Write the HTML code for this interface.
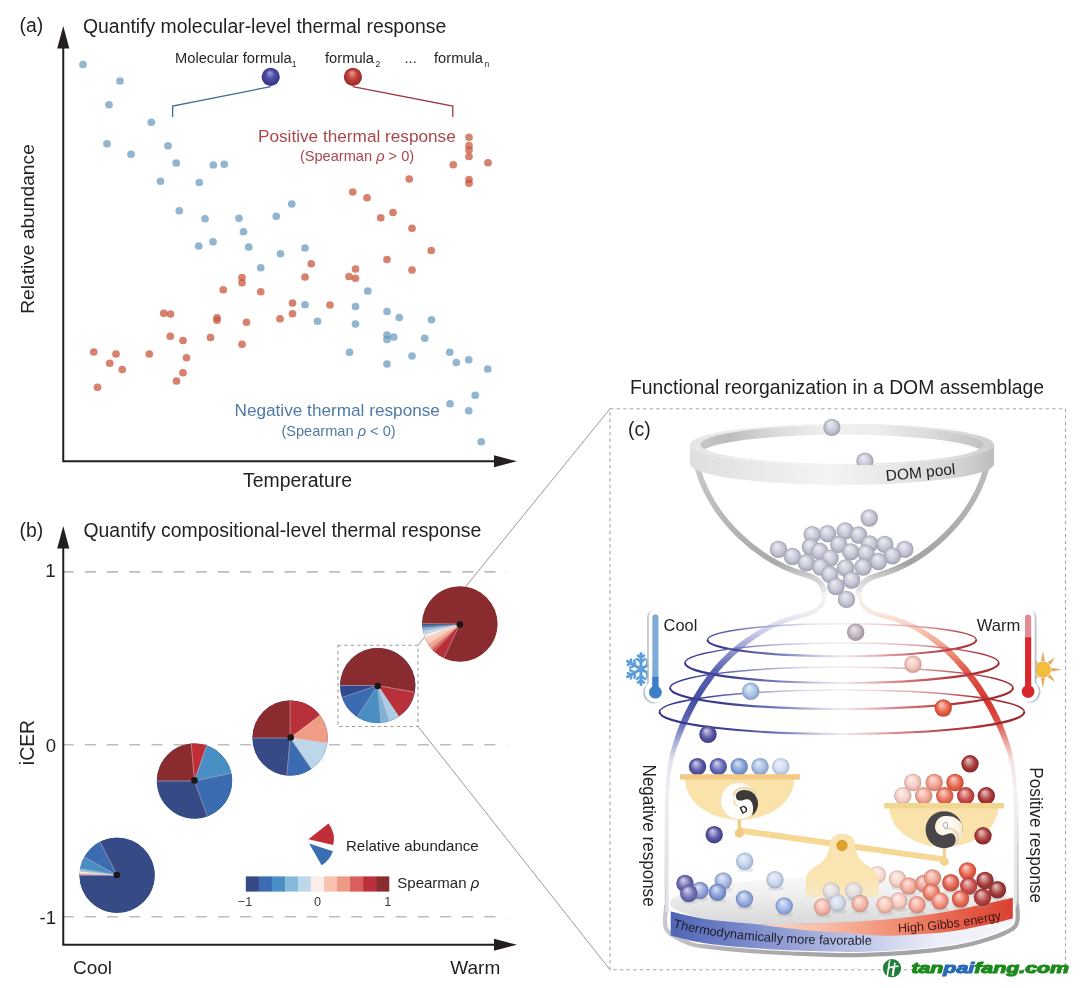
<!DOCTYPE html>
<html><head><meta charset="utf-8"><title>Figure</title>
<style>
html,body{margin:0;padding:0;background:#fff;}
body{width:1080px;height:988px;overflow:hidden;font-family:"Liberation Sans",sans-serif;}
svg{display:block;opacity:0.999;will-change:transform}
svg text{font-family:"Liberation Sans",sans-serif;}
</style></head><body>
<svg width="1080" height="988" viewBox="0 0 1080 988">
<defs>
<linearGradient id="ringBack" x1="0" x2="1" y1="0" y2="0"><stop offset="0" stop-color="#c6c6c6"/><stop offset="0.1" stop-color="#bcbcbc"/><stop offset="0.28" stop-color="#dcdcdc"/><stop offset="0.45" stop-color="#f1f1f1"/><stop offset="0.62" stop-color="#eeeeee"/><stop offset="0.82" stop-color="#dad8d9"/><stop offset="1" stop-color="#c2c0c1"/></linearGradient>
<linearGradient id="ringRim" x1="0" x2="1" y1="0" y2="0"><stop offset="0" stop-color="#e6e6e6"/><stop offset="0.4" stop-color="#f4f4f4"/><stop offset="0.8" stop-color="#e4e2e3"/><stop offset="1" stop-color="#cfcdce"/></linearGradient>
<linearGradient id="ringFront" x1="0" x2="1" y1="0" y2="0"><stop offset="0" stop-color="#dedede"/><stop offset="0.2" stop-color="#e8e8e8"/><stop offset="0.45" stop-color="#f4f4f4"/><stop offset="0.7" stop-color="#e6e4e5"/><stop offset="0.9" stop-color="#d2d0d1"/><stop offset="1" stop-color="#bdbbbc"/></linearGradient>
<linearGradient id="bowlL" gradientUnits="userSpaceOnUse" x1="0" y1="465" x2="0" y2="596"><stop offset="0" stop-color="#c9c9c9"/><stop offset="0.75" stop-color="#a9a9a9"/><stop offset="0.86" stop-color="#cfcfcf"/><stop offset="1" stop-color="#f0f0f0"/></linearGradient>
<linearGradient id="bowlR" gradientUnits="userSpaceOnUse" x1="0" y1="465" x2="0" y2="596"><stop offset="0" stop-color="#bdbdbd"/><stop offset="0.75" stop-color="#a3a3a3"/><stop offset="0.86" stop-color="#cfcfcf"/><stop offset="1" stop-color="#f0f0f0"/></linearGradient>
<linearGradient id="jarL" gradientUnits="userSpaceOnUse" x1="0" y1="592" x2="0" y2="912"><stop offset="0" stop-color="#f4f4f6"/><stop offset="0.07" stop-color="#ececf4"/><stop offset="0.12" stop-color="#cfd1ea"/><stop offset="0.18" stop-color="#959bd0"/><stop offset="0.245" stop-color="#5964b0"/><stop offset="0.34" stop-color="#4650a4"/><stop offset="0.40" stop-color="#5d67b2"/><stop offset="0.46" stop-color="#a0a6d3"/><stop offset="0.525" stop-color="#e2e3ef"/><stop offset="0.62" stop-color="#ededf2"/><stop offset="1" stop-color="#e0e0e7"/></linearGradient>
<linearGradient id="jarR" gradientUnits="userSpaceOnUse" x1="0" y1="592" x2="0" y2="912"><stop offset="0" stop-color="#f7f2f0"/><stop offset="0.07" stop-color="#fae6dc"/><stop offset="0.12" stop-color="#f6c6b2"/><stop offset="0.18" stop-color="#ee9580"/><stop offset="0.245" stop-color="#e05a48"/><stop offset="0.34" stop-color="#d6342e"/><stop offset="0.40" stop-color="#dc4c44"/><stop offset="0.46" stop-color="#eb9a94"/><stop offset="0.525" stop-color="#f5e4e2"/><stop offset="0.62" stop-color="#f1f1f1"/><stop offset="1" stop-color="#e2e2e4"/></linearGradient>
<linearGradient id="bandBlue" gradientUnits="userSpaceOnUse" x1="670" y1="0" x2="1013" y2="0"><stop offset="0" stop-color="#4f64b6"/><stop offset="0.2" stop-color="#7585c8"/><stop offset="0.45" stop-color="#a9b3de"/><stop offset="0.62" stop-color="#ccd2ee"/><stop offset="0.78" stop-color="#eceef8"/><stop offset="1" stop-color="#f6f6f8"/></linearGradient>
<linearGradient id="bandRed" gradientUnits="userSpaceOnUse" x1="752" y1="0" x2="1013" y2="0"><stop offset="0" stop-color="#f9dccf"/><stop offset="0.3" stop-color="#f7b9a2"/><stop offset="0.55" stop-color="#f08e74"/><stop offset="0.8" stop-color="#e55f48"/><stop offset="1" stop-color="#da4032"/></linearGradient>
<linearGradient id="rimG" gradientUnits="userSpaceOnUse" x1="666" y1="0" x2="1016" y2="0"><stop offset="0" stop-color="#c9c9cd"/><stop offset="0.12" stop-color="#b4b4b8"/><stop offset="0.5" stop-color="#a2a2a4"/><stop offset="1" stop-color="#a6a6a8"/></linearGradient>
<linearGradient id="wallG" gradientUnits="userSpaceOnUse" x1="0" y1="790" x2="0" y2="908"><stop offset="0" stop-color="#c8c8cc" stop-opacity="0"/><stop offset="0.5" stop-color="#c0c0c4" stop-opacity="0.8"/><stop offset="1" stop-color="#b0b0b4"/></linearGradient>
<linearGradient id="floorG" x1="0" y1="0" x2="0" y2="1"><stop offset="0" stop-color="#f8f8f8"/><stop offset="0.35" stop-color="#efefef"/><stop offset="0.75" stop-color="#dedede"/><stop offset="1" stop-color="#d6d6d6"/></linearGradient>
<radialGradient id="sp_fblue" cx="0.5" cy="0.5" r="0.5" fx="0.45" fy="0.25"><stop offset="0" stop-color="#a09ed8"/><stop offset="0.5" stop-color="#504ea3"/><stop offset="1" stop-color="#343289"/></radialGradient>
<radialGradient id="sp_fred" cx="0.5" cy="0.5" r="0.5" fx="0.45" fy="0.25"><stop offset="0" stop-color="#eba294"/><stop offset="0.5" stop-color="#c5433d"/><stop offset="1" stop-color="#962725"/></radialGradient>

<radialGradient id="yyW" cx="0.4" cy="0.55" r="0.6"><stop offset="0" stop-color="#ffffff"/><stop offset="0.8" stop-color="#fffdf8"/><stop offset="1" stop-color="#f6ead0"/></radialGradient>
<radialGradient id="yyC" cx="0.45" cy="0.3" r="0.75"><stop offset="0" stop-color="#ffffff"/><stop offset="0.5" stop-color="#fbf3e4"/><stop offset="1" stop-color="#efdcb8"/></radialGradient>
<linearGradient id="coilB" gradientUnits="userSpaceOnUse" x1="659" y1="0" x2="1025" y2="0"><stop offset="0" stop-color="#33338a"/><stop offset="0.14" stop-color="#45479a"/><stop offset="0.3" stop-color="#a9abd2"/><stop offset="0.42" stop-color="#e4e4f0"/><stop offset="0.5" stop-color="#f4eff2"/><stop offset="0.6" stop-color="#f0d4d6"/><stop offset="0.72" stop-color="#dc9a9c"/><stop offset="0.86" stop-color="#b03a3e"/><stop offset="1" stop-color="#97262b"/></linearGradient>
<linearGradient id="coilG" gradientUnits="userSpaceOnUse" x1="659" y1="0" x2="1025" y2="0"><stop offset="0" stop-color="#33338a"/><stop offset="0.2" stop-color="#3d3f92"/><stop offset="0.34" stop-color="#7f83bb"/><stop offset="0.44" stop-color="#cfd0e4"/><stop offset="0.5" stop-color="#efeaee"/><stop offset="0.56" stop-color="#ecc9cb"/><stop offset="0.66" stop-color="#d67e82"/><stop offset="0.8" stop-color="#b5363b"/><stop offset="1" stop-color="#97262b"/></linearGradient>
<linearGradient id="pedG" gradientUnits="userSpaceOnUse" x1="0" y1="834" x2="0" y2="897"><stop offset="0" stop-color="#fae5b2"/><stop offset="0.75" stop-color="#fae5b2"/><stop offset="1" stop-color="#fae5b2" stop-opacity="0.7"/></linearGradient>
<radialGradient id="sbfc1d1" cx="0.5" cy="0.5" r="0.5" fx="0.38" fy="0.27"><stop offset="0" stop-color="#eeeff3"/><stop offset="0.3" stop-color="#dcdde6"/><stop offset="0.68" stop-color="#c3c5d4"/><stop offset="1" stop-color="#9fa0ad"/></radialGradient>
<radialGradient id="sbcaeb8" cx="0.5" cy="0.5" r="0.5" fx="0.38" fy="0.27"><stop offset="0" stop-color="#eeeaed"/><stop offset="0.3" stop-color="#dad2d8"/><stop offset="0.68" stop-color="#c0b3bc"/><stop offset="1" stop-color="#9c9099"/></radialGradient>
<radialGradient id="sa3bde6" cx="0.5" cy="0.5" r="0.5" fx="0.38" fy="0.27"><stop offset="0" stop-color="#e7eef8"/><stop offset="0.3" stop-color="#ccdbf1"/><stop offset="0.68" stop-color="#a9c1e8"/><stop offset="1" stop-color="#879dbf"/></radialGradient>
<radialGradient id="sf2c0b6" cx="0.5" cy="0.5" r="0.5" fx="0.38" fy="0.27"><stop offset="0" stop-color="#fcefec"/><stop offset="0.3" stop-color="#f8dcd7"/><stop offset="0.68" stop-color="#f3c4ba"/><stop offset="1" stop-color="#c99f97"/></radialGradient>
<radialGradient id="se8553a" cx="0.5" cy="0.5" r="0.5" fx="0.38" fy="0.27"><stop offset="0" stop-color="#f9d3cc"/><stop offset="0.3" stop-color="#f2a293"/><stop offset="0.68" stop-color="#e95f46"/><stop offset="1" stop-color="#c14730"/></radialGradient>
<radialGradient id="s4c499d" cx="0.5" cy="0.5" r="0.5" fx="0.38" fy="0.27"><stop offset="0" stop-color="#d0d0e6"/><stop offset="0.3" stop-color="#9d9bc9"/><stop offset="0.68" stop-color="#5754a3"/><stop offset="1" stop-color="#3f3d82"/></radialGradient>
<radialGradient id="sa02c2c" cx="0.5" cy="0.5" r="0.5" fx="0.38" fy="0.27"><stop offset="0" stop-color="#e6c8c8"/><stop offset="0.3" stop-color="#cb8b8b"/><stop offset="0.68" stop-color="#a63939"/><stop offset="1" stop-color="#852525"/></radialGradient>
<radialGradient id="sf6d2c8" cx="0.5" cy="0.5" r="0.5" fx="0.38" fy="0.27"><stop offset="0" stop-color="#fdf3f1"/><stop offset="0.3" stop-color="#fae6e1"/><stop offset="0.68" stop-color="#f7d5cb"/><stop offset="1" stop-color="#ccaea6"/></radialGradient>
<radialGradient id="s4f4da0" cx="0.5" cy="0.5" r="0.5" fx="0.38" fy="0.27"><stop offset="0" stop-color="#d1d1e6"/><stop offset="0.3" stop-color="#9e9dcb"/><stop offset="0.68" stop-color="#5a58a6"/><stop offset="1" stop-color="#424085"/></radialGradient>
<radialGradient id="s5861b3" cx="0.5" cy="0.5" r="0.5" fx="0.38" fy="0.27"><stop offset="0" stop-color="#d4d6eb"/><stop offset="0.3" stop-color="#a3a8d5"/><stop offset="0.68" stop-color="#626ab8"/><stop offset="1" stop-color="#495195"/></radialGradient>
<radialGradient id="s7a9ad6" cx="0.5" cy="0.5" r="0.5" fx="0.38" fy="0.27"><stop offset="0" stop-color="#dce5f4"/><stop offset="0.3" stop-color="#b6c7e8"/><stop offset="0.68" stop-color="#82a0d8"/><stop offset="1" stop-color="#6580b2"/></radialGradient>
<radialGradient id="sa0b9e3" cx="0.5" cy="0.5" r="0.5" fx="0.38" fy="0.27"><stop offset="0" stop-color="#e6edf8"/><stop offset="0.3" stop-color="#cbd8f0"/><stop offset="0.68" stop-color="#a6bde5"/><stop offset="1" stop-color="#859abc"/></radialGradient>
<radialGradient id="sccd9f0" cx="0.5" cy="0.5" r="0.5" fx="0.38" fy="0.27"><stop offset="0" stop-color="#f2f5fb"/><stop offset="0.3" stop-color="#e3eaf7"/><stop offset="0.68" stop-color="#cfdbf1"/><stop offset="1" stop-color="#a9b4c7"/></radialGradient>
<radialGradient id="sf6cdc6" cx="0.5" cy="0.5" r="0.5" fx="0.38" fy="0.27"><stop offset="0" stop-color="#fdf2f0"/><stop offset="0.3" stop-color="#fae4e0"/><stop offset="0.68" stop-color="#f7d0c9"/><stop offset="1" stop-color="#ccaaa4"/></radialGradient>
<radialGradient id="sf2a492" cx="0.5" cy="0.5" r="0.5" fx="0.38" fy="0.27"><stop offset="0" stop-color="#fce7e3"/><stop offset="0.3" stop-color="#f8cdc3"/><stop offset="0.68" stop-color="#f3a999"/><stop offset="1" stop-color="#c98879"/></radialGradient>
<radialGradient id="se96a50" cx="0.5" cy="0.5" r="0.5" fx="0.38" fy="0.27"><stop offset="0" stop-color="#f9d8d2"/><stop offset="0.3" stop-color="#f3ad9f"/><stop offset="0.68" stop-color="#ea735a"/><stop offset="1" stop-color="#c15842"/></radialGradient>
<radialGradient id="sc84040" cx="0.5" cy="0.5" r="0.5" fx="0.38" fy="0.27"><stop offset="0" stop-color="#f1cdcd"/><stop offset="0.3" stop-color="#e19696"/><stop offset="0.68" stop-color="#cb4b4b"/><stop offset="1" stop-color="#a63535"/></radialGradient>
<radialGradient id="sa52e2e" cx="0.5" cy="0.5" r="0.5" fx="0.38" fy="0.27"><stop offset="0" stop-color="#e8c9c9"/><stop offset="0.3" stop-color="#ce8c8c"/><stop offset="0.68" stop-color="#aa3b3b"/><stop offset="1" stop-color="#892626"/></radialGradient>
<radialGradient id="sf5c4bc" cx="0.5" cy="0.5" r="0.5" fx="0.38" fy="0.27"><stop offset="0" stop-color="#fcf0ee"/><stop offset="0.3" stop-color="#fadfda"/><stop offset="0.68" stop-color="#f6c8c0"/><stop offset="1" stop-color="#cba39c"/></radialGradient>
<radialGradient id="sf09886" cx="0.5" cy="0.5" r="0.5" fx="0.38" fy="0.27"><stop offset="0" stop-color="#fbe4e0"/><stop offset="0.3" stop-color="#f7c6bc"/><stop offset="0.68" stop-color="#f19e8d"/><stop offset="1" stop-color="#c77e6f"/></radialGradient>
<radialGradient id="se95c42" cx="0.5" cy="0.5" r="0.5" fx="0.38" fy="0.27"><stop offset="0" stop-color="#f9d5ce"/><stop offset="0.3" stop-color="#f3a597"/><stop offset="0.68" stop-color="#ea664d"/><stop offset="1" stop-color="#c14c37"/></radialGradient>
<radialGradient id="sbdd0ee" cx="0.5" cy="0.5" r="0.5" fx="0.38" fy="0.27"><stop offset="0" stop-color="#eef3fb"/><stop offset="0.3" stop-color="#dbe5f6"/><stop offset="0.68" stop-color="#c1d3ef"/><stop offset="1" stop-color="#9dadc6"/></radialGradient>
<radialGradient id="s6361ac" cx="0.5" cy="0.5" r="0.5" fx="0.38" fy="0.27"><stop offset="0" stop-color="#d6d6e9"/><stop offset="0.3" stop-color="#a9a8d1"/><stop offset="0.68" stop-color="#6c6ab1"/><stop offset="1" stop-color="#52518f"/></radialGradient>
<radialGradient id="s8a9ad5" cx="0.5" cy="0.5" r="0.5" fx="0.38" fy="0.27"><stop offset="0" stop-color="#e1e5f4"/><stop offset="0.3" stop-color="#bfc7e8"/><stop offset="0.68" stop-color="#91a0d8"/><stop offset="1" stop-color="#7380b1"/></radialGradient>
<radialGradient id="s6867b4" cx="0.5" cy="0.5" r="0.5" fx="0.38" fy="0.27"><stop offset="0" stop-color="#d8d7ec"/><stop offset="0.3" stop-color="#acabd6"/><stop offset="0.68" stop-color="#7170b8"/><stop offset="1" stop-color="#565595"/></radialGradient>
<radialGradient id="sa1b2df" cx="0.5" cy="0.5" r="0.5" fx="0.38" fy="0.27"><stop offset="0" stop-color="#e7ebf7"/><stop offset="0.3" stop-color="#cbd5ed"/><stop offset="0.68" stop-color="#a7b7e1"/><stop offset="1" stop-color="#8694b9"/></radialGradient>
<radialGradient id="s7d94d5" cx="0.5" cy="0.5" r="0.5" fx="0.38" fy="0.27"><stop offset="0" stop-color="#dde3f4"/><stop offset="0.3" stop-color="#b8c4e8"/><stop offset="0.68" stop-color="#859ad8"/><stop offset="1" stop-color="#687bb1"/></radialGradient>
<radialGradient id="s8ea6dd" cx="0.5" cy="0.5" r="0.5" fx="0.38" fy="0.27"><stop offset="0" stop-color="#e2e8f6"/><stop offset="0.3" stop-color="#c1ceec"/><stop offset="0.68" stop-color="#95abdf"/><stop offset="1" stop-color="#768ab7"/></radialGradient>
<radialGradient id="sc8d4ee" cx="0.5" cy="0.5" r="0.5" fx="0.38" fy="0.27"><stop offset="0" stop-color="#f1f4fb"/><stop offset="0.3" stop-color="#e1e7f6"/><stop offset="0.68" stop-color="#cbd7ef"/><stop offset="1" stop-color="#a6b0c6"/></radialGradient>
<radialGradient id="s96aee3" cx="0.5" cy="0.5" r="0.5" fx="0.38" fy="0.27"><stop offset="0" stop-color="#e4eaf8"/><stop offset="0.3" stop-color="#c5d2f0"/><stop offset="0.68" stop-color="#9cb3e5"/><stop offset="1" stop-color="#7c90bc"/></radialGradient>
<radialGradient id="sd9d9e9" cx="0.5" cy="0.5" r="0.5" fx="0.38" fy="0.27"><stop offset="0" stop-color="#f5f5f9"/><stop offset="0.3" stop-color="#eaeaf3"/><stop offset="0.68" stop-color="#dbdbea"/><stop offset="1" stop-color="#b4b4c1"/></radialGradient>
<radialGradient id="sf5ab9b" cx="0.5" cy="0.5" r="0.5" fx="0.38" fy="0.27"><stop offset="0" stop-color="#fce9e5"/><stop offset="0.3" stop-color="#fad1c8"/><stop offset="0.68" stop-color="#f6b0a1"/><stop offset="1" stop-color="#cb8e81"/></radialGradient>
<radialGradient id="scdd5ec" cx="0.5" cy="0.5" r="0.5" fx="0.38" fy="0.27"><stop offset="0" stop-color="#f2f4fa"/><stop offset="0.3" stop-color="#e4e8f5"/><stop offset="0.68" stop-color="#d0d8ed"/><stop offset="1" stop-color="#aab1c4"/></radialGradient>
<radialGradient id="sf4ab9b" cx="0.5" cy="0.5" r="0.5" fx="0.38" fy="0.27"><stop offset="0" stop-color="#fce9e5"/><stop offset="0.3" stop-color="#f9d1c8"/><stop offset="0.68" stop-color="#f5b0a1"/><stop offset="1" stop-color="#cb8e81"/></radialGradient>
<radialGradient id="sf8cfc4" cx="0.5" cy="0.5" r="0.5" fx="0.38" fy="0.27"><stop offset="0" stop-color="#fdf3f0"/><stop offset="0.3" stop-color="#fbe5df"/><stop offset="0.68" stop-color="#f8d2c8"/><stop offset="1" stop-color="#ceaca3"/></radialGradient>
<radialGradient id="sf3a898" cx="0.5" cy="0.5" r="0.5" fx="0.38" fy="0.27"><stop offset="0" stop-color="#fce8e4"/><stop offset="0.3" stop-color="#f8cfc6"/><stop offset="0.68" stop-color="#f4ad9e"/><stop offset="1" stop-color="#ca8b7e"/></radialGradient>
<radialGradient id="sf0988a" cx="0.5" cy="0.5" r="0.5" fx="0.38" fy="0.27"><stop offset="0" stop-color="#fbe4e1"/><stop offset="0.3" stop-color="#f7c6bf"/><stop offset="0.68" stop-color="#f19e91"/><stop offset="1" stop-color="#c77e73"/></radialGradient>
<radialGradient id="sf09a88" cx="0.5" cy="0.5" r="0.5" fx="0.38" fy="0.27"><stop offset="0" stop-color="#fbe5e0"/><stop offset="0.3" stop-color="#f7c7be"/><stop offset="0.68" stop-color="#f1a08f"/><stop offset="1" stop-color="#c78071"/></radialGradient>
<radialGradient id="se05a48" cx="0.5" cy="0.5" r="0.5" fx="0.38" fy="0.27"><stop offset="0" stop-color="#f7d4cf"/><stop offset="0.3" stop-color="#eea49a"/><stop offset="0.68" stop-color="#e26453"/><stop offset="1" stop-color="#ba4b3c"/></radialGradient>
<radialGradient id="se85840" cx="0.5" cy="0.5" r="0.5" fx="0.38" fy="0.27"><stop offset="0" stop-color="#f9d4cd"/><stop offset="0.3" stop-color="#f2a396"/><stop offset="0.68" stop-color="#e9624b"/><stop offset="1" stop-color="#c14935"/></radialGradient>
<radialGradient id="sa03232" cx="0.5" cy="0.5" r="0.5" fx="0.38" fy="0.27"><stop offset="0" stop-color="#e6caca"/><stop offset="0.3" stop-color="#cb8e8e"/><stop offset="0.68" stop-color="#a63e3e"/><stop offset="1" stop-color="#852a2a"/></radialGradient>
<radialGradient id="s9c3030" cx="0.5" cy="0.5" r="0.5" fx="0.38" fy="0.27"><stop offset="0" stop-color="#e5c9c9"/><stop offset="0.3" stop-color="#c98d8d"/><stop offset="0.68" stop-color="#a23c3c"/><stop offset="1" stop-color="#812828"/></radialGradient>
<radialGradient id="sc84444" cx="0.5" cy="0.5" r="0.5" fx="0.38" fy="0.27"><stop offset="0" stop-color="#f1cece"/><stop offset="0.3" stop-color="#e19898"/><stop offset="0.68" stop-color="#cb4f4f"/><stop offset="1" stop-color="#a63838"/></radialGradient>
<radialGradient id="see7a60" cx="0.5" cy="0.5" r="0.5" fx="0.38" fy="0.27"><stop offset="0" stop-color="#fbdcd6"/><stop offset="0.3" stop-color="#f6b6a8"/><stop offset="0.68" stop-color="#ef826a"/><stop offset="1" stop-color="#c66550"/></radialGradient>
<radialGradient id="sb03838" cx="0.5" cy="0.5" r="0.5" fx="0.38" fy="0.27"><stop offset="0" stop-color="#eacbcb"/><stop offset="0.3" stop-color="#d49292"/><stop offset="0.68" stop-color="#b54444"/><stop offset="1" stop-color="#922e2e"/></radialGradient>
<radialGradient id="se8604a" cx="0.5" cy="0.5" r="0.5" fx="0.38" fy="0.27"><stop offset="0" stop-color="#f9d6d0"/><stop offset="0.3" stop-color="#f2a89b"/><stop offset="0.68" stop-color="#e96a55"/><stop offset="1" stop-color="#c1503d"/></radialGradient>
<radialGradient id="sf08a78" cx="0.5" cy="0.5" r="0.5" fx="0.38" fy="0.27"><stop offset="0" stop-color="#fbe1dc"/><stop offset="0.3" stop-color="#f7bfb5"/><stop offset="0.68" stop-color="#f19180"/><stop offset="1" stop-color="#c77364"/></radialGradient>
<radialGradient id="sf4a090" cx="0.5" cy="0.5" r="0.5" fx="0.38" fy="0.27"><stop offset="0" stop-color="#fce6e2"/><stop offset="0.3" stop-color="#f9cbc2"/><stop offset="0.68" stop-color="#f5a697"/><stop offset="1" stop-color="#cb8578"/></radialGradient>
<radialGradient id="sf8c8bc" cx="0.5" cy="0.5" r="0.5" fx="0.38" fy="0.27"><stop offset="0" stop-color="#fdf1ee"/><stop offset="0.3" stop-color="#fbe1da"/><stop offset="0.68" stop-color="#f8cbc0"/><stop offset="1" stop-color="#cea69c"/></radialGradient>
<radialGradient id="sf8c0b0" cx="0.5" cy="0.5" r="0.5" fx="0.38" fy="0.27"><stop offset="0" stop-color="#fdefea"/><stop offset="0.3" stop-color="#fbdcd4"/><stop offset="0.68" stop-color="#f8c4b5"/><stop offset="1" stop-color="#ce9f92"/></radialGradient></defs>
<rect width="1080" height="988" fill="#ffffff"/>
<g id="pa">
<path d="M63.25 47 V461.25 H495" fill="none" stroke="#231f20" stroke-width="2"/>
<path d="M63.25 26 L69.3 48.5 L57.2 48.5 Z" fill="#231f20"/>
<path d="M517 461.25 L494 467.3 L494 455.2 Z" fill="#231f20"/>
<circle cx="83" cy="64.5" r="3.85" fill="#6a9abe" fill-opacity="0.73"/>
<circle cx="120" cy="81" r="3.85" fill="#6a9abe" fill-opacity="0.73"/>
<circle cx="109" cy="104.75" r="3.85" fill="#6a9abe" fill-opacity="0.73"/>
<circle cx="151.25" cy="122.25" r="3.85" fill="#6a9abe" fill-opacity="0.73"/>
<circle cx="107" cy="143.75" r="3.85" fill="#6a9abe" fill-opacity="0.73"/>
<circle cx="131" cy="154.25" r="3.85" fill="#6a9abe" fill-opacity="0.73"/>
<circle cx="168" cy="145.75" r="3.85" fill="#6a9abe" fill-opacity="0.73"/>
<circle cx="176.25" cy="163" r="3.85" fill="#6a9abe" fill-opacity="0.73"/>
<circle cx="213.25" cy="165" r="3.85" fill="#6a9abe" fill-opacity="0.73"/>
<circle cx="224.25" cy="164.25" r="3.85" fill="#6a9abe" fill-opacity="0.73"/>
<circle cx="160.5" cy="181.25" r="3.85" fill="#6a9abe" fill-opacity="0.73"/>
<circle cx="199.25" cy="182.5" r="3.85" fill="#6a9abe" fill-opacity="0.73"/>
<circle cx="179.25" cy="210.75" r="3.85" fill="#6a9abe" fill-opacity="0.73"/>
<circle cx="205" cy="218.75" r="3.85" fill="#6a9abe" fill-opacity="0.73"/>
<circle cx="239" cy="218.25" r="3.85" fill="#6a9abe" fill-opacity="0.73"/>
<circle cx="243.5" cy="231.75" r="3.85" fill="#6a9abe" fill-opacity="0.73"/>
<circle cx="213" cy="241.75" r="3.85" fill="#6a9abe" fill-opacity="0.73"/>
<circle cx="198.75" cy="246" r="3.85" fill="#6a9abe" fill-opacity="0.73"/>
<circle cx="248.75" cy="247" r="3.85" fill="#6a9abe" fill-opacity="0.73"/>
<circle cx="291.75" cy="204" r="3.85" fill="#6a9abe" fill-opacity="0.73"/>
<circle cx="276.25" cy="216.25" r="3.85" fill="#6a9abe" fill-opacity="0.73"/>
<circle cx="305" cy="248" r="3.85" fill="#6a9abe" fill-opacity="0.73"/>
<circle cx="260.75" cy="267.75" r="3.85" fill="#6a9abe" fill-opacity="0.73"/>
<circle cx="280.5" cy="253.75" r="3.85" fill="#6a9abe" fill-opacity="0.73"/>
<circle cx="367.75" cy="291" r="3.85" fill="#6a9abe" fill-opacity="0.73"/>
<circle cx="305" cy="304.75" r="3.85" fill="#6a9abe" fill-opacity="0.73"/>
<circle cx="355.5" cy="306.5" r="3.85" fill="#6a9abe" fill-opacity="0.73"/>
<circle cx="387" cy="311.5" r="3.85" fill="#6a9abe" fill-opacity="0.73"/>
<circle cx="399.25" cy="317.5" r="3.85" fill="#6a9abe" fill-opacity="0.73"/>
<circle cx="431.5" cy="319.75" r="3.85" fill="#6a9abe" fill-opacity="0.73"/>
<circle cx="317.5" cy="321.25" r="3.85" fill="#6a9abe" fill-opacity="0.73"/>
<circle cx="355.5" cy="324" r="3.85" fill="#6a9abe" fill-opacity="0.73"/>
<circle cx="387" cy="335" r="3.85" fill="#6a9abe" fill-opacity="0.73"/>
<circle cx="393.75" cy="337" r="3.85" fill="#6a9abe" fill-opacity="0.73"/>
<circle cx="387" cy="339.5" r="3.85" fill="#6a9abe" fill-opacity="0.73"/>
<circle cx="424.75" cy="338.25" r="3.85" fill="#6a9abe" fill-opacity="0.73"/>
<circle cx="349.5" cy="352.25" r="3.85" fill="#6a9abe" fill-opacity="0.73"/>
<circle cx="412" cy="356" r="3.85" fill="#6a9abe" fill-opacity="0.73"/>
<circle cx="387" cy="364" r="3.85" fill="#6a9abe" fill-opacity="0.73"/>
<circle cx="449.75" cy="352.25" r="3.85" fill="#6a9abe" fill-opacity="0.73"/>
<circle cx="456.25" cy="362.5" r="3.85" fill="#6a9abe" fill-opacity="0.73"/>
<circle cx="468.75" cy="359.75" r="3.85" fill="#6a9abe" fill-opacity="0.73"/>
<circle cx="487.75" cy="369" r="3.85" fill="#6a9abe" fill-opacity="0.73"/>
<circle cx="475.25" cy="395.25" r="3.85" fill="#6a9abe" fill-opacity="0.73"/>
<circle cx="450" cy="403.75" r="3.85" fill="#6a9abe" fill-opacity="0.73"/>
<circle cx="468.75" cy="410.75" r="3.85" fill="#6a9abe" fill-opacity="0.73"/>
<circle cx="481.25" cy="441.75" r="3.85" fill="#6a9abe" fill-opacity="0.73"/>
<circle cx="469" cy="137.25" r="3.85" fill="#c8533a" fill-opacity="0.73"/>
<circle cx="469" cy="145.5" r="3.85" fill="#c8533a" fill-opacity="0.73"/>
<circle cx="469" cy="150" r="3.85" fill="#c8533a" fill-opacity="0.73"/>
<circle cx="469" cy="156.5" r="3.85" fill="#c8533a" fill-opacity="0.73"/>
<circle cx="453.25" cy="164.75" r="3.85" fill="#c8533a" fill-opacity="0.73"/>
<circle cx="488" cy="162.75" r="3.85" fill="#c8533a" fill-opacity="0.73"/>
<circle cx="409.25" cy="179" r="3.85" fill="#c8533a" fill-opacity="0.73"/>
<circle cx="469" cy="179.5" r="3.85" fill="#c8533a" fill-opacity="0.73"/>
<circle cx="469" cy="183.25" r="3.85" fill="#c8533a" fill-opacity="0.73"/>
<circle cx="352.75" cy="192" r="3.85" fill="#c8533a" fill-opacity="0.73"/>
<circle cx="367" cy="197.75" r="3.85" fill="#c8533a" fill-opacity="0.73"/>
<circle cx="393" cy="212.5" r="3.85" fill="#c8533a" fill-opacity="0.73"/>
<circle cx="380.75" cy="217.75" r="3.85" fill="#c8533a" fill-opacity="0.73"/>
<circle cx="412" cy="228.25" r="3.85" fill="#c8533a" fill-opacity="0.73"/>
<circle cx="242" cy="277.5" r="3.85" fill="#c8533a" fill-opacity="0.73"/>
<circle cx="242" cy="282.75" r="3.85" fill="#c8533a" fill-opacity="0.73"/>
<circle cx="223.25" cy="289.75" r="3.85" fill="#c8533a" fill-opacity="0.73"/>
<circle cx="260.75" cy="291.75" r="3.85" fill="#c8533a" fill-opacity="0.73"/>
<circle cx="163.75" cy="313.25" r="3.85" fill="#c8533a" fill-opacity="0.73"/>
<circle cx="170.5" cy="314" r="3.85" fill="#c8533a" fill-opacity="0.73"/>
<circle cx="217" cy="317.75" r="3.85" fill="#c8533a" fill-opacity="0.73"/>
<circle cx="217" cy="320.25" r="3.85" fill="#c8533a" fill-opacity="0.73"/>
<circle cx="246.5" cy="322.25" r="3.85" fill="#c8533a" fill-opacity="0.73"/>
<circle cx="170.25" cy="336.25" r="3.85" fill="#c8533a" fill-opacity="0.73"/>
<circle cx="183" cy="340.5" r="3.85" fill="#c8533a" fill-opacity="0.73"/>
<circle cx="210.5" cy="337.5" r="3.85" fill="#c8533a" fill-opacity="0.73"/>
<circle cx="242" cy="344.25" r="3.85" fill="#c8533a" fill-opacity="0.73"/>
<circle cx="93.75" cy="352" r="3.85" fill="#c8533a" fill-opacity="0.73"/>
<circle cx="116" cy="354" r="3.85" fill="#c8533a" fill-opacity="0.73"/>
<circle cx="149.25" cy="354" r="3.85" fill="#c8533a" fill-opacity="0.73"/>
<circle cx="109.75" cy="363.25" r="3.85" fill="#c8533a" fill-opacity="0.73"/>
<circle cx="122.25" cy="369.5" r="3.85" fill="#c8533a" fill-opacity="0.73"/>
<circle cx="186.5" cy="357.75" r="3.85" fill="#c8533a" fill-opacity="0.73"/>
<circle cx="183" cy="372.75" r="3.85" fill="#c8533a" fill-opacity="0.73"/>
<circle cx="176.5" cy="381" r="3.85" fill="#c8533a" fill-opacity="0.73"/>
<circle cx="97.5" cy="387.25" r="3.85" fill="#c8533a" fill-opacity="0.73"/>
<circle cx="431.25" cy="250.5" r="3.85" fill="#c8533a" fill-opacity="0.73"/>
<circle cx="387" cy="259.5" r="3.85" fill="#c8533a" fill-opacity="0.73"/>
<circle cx="311.25" cy="263.75" r="3.85" fill="#c8533a" fill-opacity="0.73"/>
<circle cx="355.5" cy="269" r="3.85" fill="#c8533a" fill-opacity="0.73"/>
<circle cx="412" cy="270" r="3.85" fill="#c8533a" fill-opacity="0.73"/>
<circle cx="305" cy="277" r="3.85" fill="#c8533a" fill-opacity="0.73"/>
<circle cx="349" cy="276.5" r="3.85" fill="#c8533a" fill-opacity="0.73"/>
<circle cx="355.5" cy="278.25" r="3.85" fill="#c8533a" fill-opacity="0.73"/>
<circle cx="292.5" cy="303" r="3.85" fill="#c8533a" fill-opacity="0.73"/>
<circle cx="330" cy="305" r="3.85" fill="#c8533a" fill-opacity="0.73"/>
<circle cx="292.5" cy="313.75" r="3.85" fill="#c8533a" fill-opacity="0.73"/>
<circle cx="280" cy="318.75" r="3.85" fill="#c8533a" fill-opacity="0.73"/>
<path d="M172.6 117.1 V106.1 L270.8 86.6" fill="none" stroke="#3d6c95" stroke-width="1.3"/>
<path d="M452.8 117.1 V106.1 L352.7 86.6" fill="none" stroke="#9c3a40" stroke-width="1.3"/>
<circle cx="270.7" cy="76.9" r="9.1" fill="url(#sp_fblue)"/>
<circle cx="352.9" cy="76.9" r="9.1" fill="url(#sp_fred)"/>
<text x="19.5" y="32" font-size="19.4" fill="#231f20">(a)</text>
<text x="83" y="32.5" font-size="19.4" fill="#231f20">Quantify molecular-level thermal response</text>
<text x="175" y="62.7" font-size="14.7" fill="#231f20">Molecular formula<tspan font-size="8.5" dy="4">1</tspan></text>
<text x="325" y="62.7" font-size="14.7" fill="#231f20">formula<tspan font-size="8.5" dy="4" dx="1.5">2</tspan></text>
<text x="404.5" y="62.7" font-size="14.7" fill="#231f20">...</text>
<text x="434" y="62.7" font-size="14.7" fill="#231f20">formula<tspan font-size="8.5" dy="4" dx="1.5">n</tspan></text>
<text x="258" y="142" font-size="17.2" fill="#a8484d">Positive thermal response</text>
<text x="357" y="160.5" font-size="14.6" fill="#a8484d" text-anchor="middle">(Spearman <tspan font-style="italic">ρ</tspan> &gt; 0)</text>
<text x="234.5" y="416" font-size="17.2" fill="#4f7aa3">Negative thermal response</text>
<text x="338.5" y="435.5" font-size="14.6" fill="#4f7aa3" text-anchor="middle">(Spearman <tspan font-style="italic">ρ</tspan> &lt; 0)</text>
<text x="297.5" y="487" font-size="19.4" fill="#231f20" text-anchor="middle">Temperature</text>
<text transform="translate(33.8 229) rotate(-90)" font-size="19.2" fill="#231f20" text-anchor="middle">Relative abundance</text>
</g>
<g id="pb">
<line x1="62.6" y1="571.9" x2="507.2" y2="571.9" stroke="#bdbdbd" stroke-width="1.6" stroke-dasharray="11.1 11.1"/>
<line x1="62.6" y1="744.75" x2="507.2" y2="744.75" stroke="#bdbdbd" stroke-width="1.6" stroke-dasharray="11.1 11.1"/>
<line x1="62.6" y1="916.75" x2="507.2" y2="916.75" stroke="#bdbdbd" stroke-width="1.6" stroke-dasharray="11.1 11.1"/>
<path d="M418 645.25 L610 408.75 M418 726.5 L610 969.75" stroke="#9a9a9a" stroke-width="1" fill="none"/>
<path d="M63.25 546 V944.75 H495" fill="none" stroke="#231f20" stroke-width="2"/>
<path d="M63.25 526 L69.3 548.5 L57.2 548.5 Z" fill="#231f20"/>
<path d="M517 944.75 L494 950.8 L494 938.7 Z" fill="#231f20"/>
<circle cx="117.1" cy="875.25" r="37.6" fill="#364b86"/>
<path d="M117.10 875.25 L79.80 875.25 A37.300000000000004 37.300000000000004 0 0 1 79.87 872.97 Z" fill="#f0b7ae" stroke="#f0b7ae" stroke-width="0.6" stroke-linejoin="round"/>
<path d="M117.10 875.25 L79.87 872.97 A37.300000000000004 37.300000000000004 0 0 1 80.04 871.03 Z" fill="#fbece8" stroke="#fbece8" stroke-width="0.6" stroke-linejoin="round"/>
<path d="M117.10 875.25 L80.04 871.03 A37.300000000000004 37.300000000000004 0 0 1 80.37 868.77 Z" fill="#86b9d8" stroke="#86b9d8" stroke-width="0.6" stroke-linejoin="round"/>
<path d="M117.10 875.25 L80.37 868.77 A37.300000000000004 37.300000000000004 0 0 1 84.48 857.17 Z" fill="#4a8fc4" stroke="#4a8fc4" stroke-width="0.6" stroke-linejoin="round"/>
<path d="M117.10 875.25 L84.48 857.17 A37.300000000000004 37.300000000000004 0 0 1 100.17 842.02 Z" fill="#3b6bb0" stroke="#3b6bb0" stroke-width="0.6" stroke-linejoin="round"/>
<path d="M117.10 875.25 L100.17 842.02 A37.300000000000004 37.300000000000004 0 1 1 79.80 875.25 Z" fill="#364b86" stroke="#364b86" stroke-width="0.6" stroke-linejoin="round"/>
<path d="M117.10 875.25 L79.80 875.25 M117.10 875.25 L79.87 872.97 M117.10 875.25 L80.04 871.03 M117.10 875.25 L80.37 868.77 M117.10 875.25 L84.48 857.17 M117.10 875.25 L100.17 842.02 " stroke="#f4d9d3" stroke-width="0.5" fill="none" opacity="0.9"/>
<circle cx="116.8" cy="875" r="3.3" fill="#1a1718"/>
<circle cx="194.5" cy="781" r="37.6" fill="#364b86"/>
<path d="M194.50 781.00 L157.20 781.00 A37.300000000000004 37.300000000000004 0 0 1 191.25 743.84 Z" fill="#8a2b30" stroke="#8a2b30" stroke-width="0.6" stroke-linejoin="round"/>
<path d="M194.50 781.00 L191.25 743.84 A37.300000000000004 37.300000000000004 0 0 1 206.64 745.73 Z" fill="#c02e37" stroke="#c02e37" stroke-width="0.6" stroke-linejoin="round"/>
<path d="M194.50 781.00 L206.64 745.73 A37.300000000000004 37.300000000000004 0 0 1 230.98 773.24 Z" fill="#4a8fc4" stroke="#4a8fc4" stroke-width="0.6" stroke-linejoin="round"/>
<path d="M194.50 781.00 L230.98 773.24 A37.300000000000004 37.300000000000004 0 0 1 207.26 816.05 Z" fill="#3b6bb0" stroke="#3b6bb0" stroke-width="0.6" stroke-linejoin="round"/>
<path d="M194.50 781.00 L207.26 816.05 A37.300000000000004 37.300000000000004 0 0 1 157.20 781.00 Z" fill="#364b86" stroke="#364b86" stroke-width="0.6" stroke-linejoin="round"/>
<path d="M194.50 781.00 L157.20 781.00 M194.50 781.00 L191.25 743.84 M194.50 781.00 L206.64 745.73 M194.50 781.00 L230.98 773.24 M194.50 781.00 L207.26 816.05 " stroke="#f4d9d3" stroke-width="0.5" fill="none" opacity="0.9"/>
<circle cx="194.5" cy="780.4" r="3.3" fill="#1a1718"/>
<circle cx="290.1" cy="738" r="37.6" fill="#364b86"/>
<path d="M290.10 738.00 L252.80 738.00 A37.300000000000004 37.300000000000004 0 0 1 290.10 700.70 Z" fill="#8a2b30" stroke="#8a2b30" stroke-width="0.6" stroke-linejoin="round"/>
<path d="M290.10 738.00 L290.10 700.70 A37.300000000000004 37.300000000000004 0 0 1 319.89 715.55 Z" fill="#b8313a" stroke="#b8313a" stroke-width="0.6" stroke-linejoin="round"/>
<path d="M290.10 738.00 L319.89 715.55 A37.300000000000004 37.300000000000004 0 0 1 327.04 743.19 Z" fill="#f09c86" stroke="#f09c86" stroke-width="0.6" stroke-linejoin="round"/>
<path d="M290.10 738.00 L327.04 743.19 A37.300000000000004 37.300000000000004 0 0 1 311.23 768.74 Z" fill="#bcd6ea" stroke="#bcd6ea" stroke-width="0.6" stroke-linejoin="round"/>
<path d="M290.10 738.00 L311.23 768.74 A37.300000000000004 37.300000000000004 0 0 1 286.85 775.16 Z" fill="#3b6bb0" stroke="#3b6bb0" stroke-width="0.6" stroke-linejoin="round"/>
<path d="M290.10 738.00 L286.85 775.16 A37.300000000000004 37.300000000000004 0 0 1 252.80 738.00 Z" fill="#364b86" stroke="#364b86" stroke-width="0.6" stroke-linejoin="round"/>
<path d="M290.10 738.00 L252.80 738.00 M290.10 738.00 L290.10 700.70 M290.10 738.00 L319.89 715.55 M290.10 738.00 L327.04 743.19 M290.10 738.00 L311.23 768.74 M290.10 738.00 L286.85 775.16 " stroke="#f4d9d3" stroke-width="0.5" fill="none" opacity="0.9"/>
<circle cx="290.7" cy="737.5" r="3.3" fill="#1a1718"/>
<circle cx="377.75" cy="685.5" r="37.6" fill="#2f4a8f"/>
<path d="M377.75 685.50 L340.45 685.50 A37.300000000000004 37.300000000000004 0 1 1 414.43 692.30 Z" fill="#8a2b30" stroke="#8a2b30" stroke-width="0.6" stroke-linejoin="round"/>
<path d="M377.75 685.50 L414.43 692.30 A37.300000000000004 37.300000000000004 0 0 1 398.61 716.42 Z" fill="#b8313a" stroke="#b8313a" stroke-width="0.6" stroke-linejoin="round"/>
<path d="M377.75 685.50 L398.61 716.42 A37.300000000000004 37.300000000000004 0 0 1 389.28 720.97 Z" fill="#a9cde4" stroke="#a9cde4" stroke-width="0.6" stroke-linejoin="round"/>
<path d="M377.75 685.50 L389.28 720.97 A37.300000000000004 37.300000000000004 0 0 1 381.00 722.66 Z" fill="#7fb0d6" stroke="#7fb0d6" stroke-width="0.6" stroke-linejoin="round"/>
<path d="M377.75 685.50 L381.00 722.66 A37.300000000000004 37.300000000000004 0 0 1 357.43 716.78 Z" fill="#4a8fc4" stroke="#4a8fc4" stroke-width="0.6" stroke-linejoin="round"/>
<path d="M377.75 685.50 L357.43 716.78 A37.300000000000004 37.300000000000004 0 0 1 342.38 697.34 Z" fill="#3b6bb0" stroke="#3b6bb0" stroke-width="0.6" stroke-linejoin="round"/>
<path d="M377.75 685.50 L342.38 697.34 A37.300000000000004 37.300000000000004 0 0 1 340.45 685.50 Z" fill="#2f4a8f" stroke="#2f4a8f" stroke-width="0.6" stroke-linejoin="round"/>
<path d="M377.75 685.50 L340.45 685.50 M377.75 685.50 L414.43 692.30 M377.75 685.50 L398.61 716.42 M377.75 685.50 L389.28 720.97 M377.75 685.50 L381.00 722.66 M377.75 685.50 L357.43 716.78 M377.75 685.50 L342.38 697.34 " stroke="#f4d9d3" stroke-width="0.5" fill="none" opacity="0.9"/>
<circle cx="377.75" cy="686" r="3.3" fill="#1a1718"/>
<circle cx="459.8" cy="624" r="37.6" fill="#8a2b30"/>
<path d="M459.80 624.00 L444.04 657.81 A37.300000000000004 37.300000000000004 0 0 1 434.36 651.28 Z" fill="#b5303a" stroke="#b5303a" stroke-width="0.6" stroke-linejoin="round"/>
<path d="M459.80 624.00 L434.36 651.28 A37.300000000000004 37.300000000000004 0 0 1 432.52 649.44 Z" fill="#cc4444" stroke="#cc4444" stroke-width="0.6" stroke-linejoin="round"/>
<path d="M459.80 624.00 L432.52 649.44 A37.300000000000004 37.300000000000004 0 0 1 430.81 647.47 Z" fill="#e07868" stroke="#e07868" stroke-width="0.6" stroke-linejoin="round"/>
<path d="M459.80 624.00 L430.81 647.47 A37.300000000000004 37.300000000000004 0 0 1 428.17 643.77 Z" fill="#f0a890" stroke="#f0a890" stroke-width="0.6" stroke-linejoin="round"/>
<path d="M459.80 624.00 L428.17 643.77 A37.300000000000004 37.300000000000004 0 0 1 425.22 637.97 Z" fill="#f9d0bc" stroke="#f9d0bc" stroke-width="0.6" stroke-linejoin="round"/>
<path d="M459.80 624.00 L425.22 637.97 A37.300000000000004 37.300000000000004 0 0 1 423.94 634.28 Z" fill="#f3ebe8" stroke="#f3ebe8" stroke-width="0.6" stroke-linejoin="round"/>
<path d="M459.80 624.00 L423.94 634.28 A37.300000000000004 37.300000000000004 0 0 1 423.07 630.48 Z" fill="#c5d9ea" stroke="#c5d9ea" stroke-width="0.6" stroke-linejoin="round"/>
<path d="M459.80 624.00 L423.07 630.48 A37.300000000000004 37.300000000000004 0 0 1 422.64 627.25 Z" fill="#8fb8d8" stroke="#8fb8d8" stroke-width="0.6" stroke-linejoin="round"/>
<path d="M459.80 624.00 L422.64 627.25 A37.300000000000004 37.300000000000004 0 0 1 422.51 624.98 Z" fill="#4a80b8" stroke="#4a80b8" stroke-width="0.6" stroke-linejoin="round"/>
<path d="M459.80 624.00 L422.51 624.98 A37.300000000000004 37.300000000000004 0 0 1 422.50 624.00 Z" fill="#35508c" stroke="#35508c" stroke-width="0.6" stroke-linejoin="round"/>
<path d="M459.80 624.00 L422.50 624.00 A37.300000000000004 37.300000000000004 0 1 1 444.04 657.81 Z" fill="#8a2b30" stroke="#8a2b30" stroke-width="0.6" stroke-linejoin="round"/>
<path d="M459.80 624.00 L444.04 657.81 M459.80 624.00 L434.36 651.28 M459.80 624.00 L432.52 649.44 M459.80 624.00 L430.81 647.47 M459.80 624.00 L428.17 643.77 M459.80 624.00 L422.50 623.61 " stroke="#f4d9d3" stroke-width="0.5" fill="none" opacity="0.9"/>
<circle cx="459.8" cy="624.6" r="3.3" fill="#1a1718"/>
<rect x="338" y="645.25" width="80" height="81.25" fill="none" stroke="#9a9a9a" stroke-width="1.1" stroke-dasharray="3.2 3.2"/>
<path d="M308.40 839.30 L328.49 823.60 A25.5 25.5 0 0 1 333.25 845.04 Z" fill="#c02e37"/>
<path d="M309.10 843.60 L332.88 851.33 A25 25 0 0 1 321.60 865.25 Z" fill="#3b6fb4"/>
<rect x="245.80" y="876.4" width="13.2" height="15.2" fill="#364b86"/>
<rect x="258.83" y="876.4" width="13.2" height="15.2" fill="#3b6bb0"/>
<rect x="271.86" y="876.4" width="13.2" height="15.2" fill="#4a8fc4"/>
<rect x="284.89" y="876.4" width="13.2" height="15.2" fill="#86b9d8"/>
<rect x="297.92" y="876.4" width="13.2" height="15.2" fill="#bcd6ea"/>
<rect x="310.95" y="876.4" width="13.2" height="15.2" fill="#fdeeea"/>
<rect x="323.98" y="876.4" width="13.2" height="15.2" fill="#f8c4b0"/>
<rect x="337.01" y="876.4" width="13.2" height="15.2" fill="#ec9a84"/>
<rect x="350.04" y="876.4" width="13.2" height="15.2" fill="#d95f5c"/>
<rect x="363.07" y="876.4" width="13.2" height="15.2" fill="#bd2f3c"/>
<rect x="376.10" y="876.4" width="13.2" height="15.2" fill="#8a2b30"/>
<text x="245" y="906.3" font-size="12.7" fill="#3a3a3a" text-anchor="middle">−1</text>
<text x="317.5" y="906.3" font-size="12.7" fill="#3a3a3a" text-anchor="middle">0</text>
<text x="387.8" y="906.3" font-size="12.7" fill="#3a3a3a" text-anchor="middle">1</text>
<text x="346" y="850.6" font-size="15" fill="#231f20">Relative abundance</text>
<text x="397.3" y="888.4" font-size="15" fill="#231f20">Spearman <tspan font-style="italic">ρ</tspan></text>
<text x="19.5" y="536.5" font-size="19.4" fill="#231f20">(b)</text>
<text x="83.5" y="537" font-size="19.4" fill="#231f20">Quantify compositional-level thermal response</text>
<text x="55.5" y="577.2" font-size="18.6" fill="#231f20" text-anchor="end">1</text>
<text x="56" y="751.6" font-size="18.6" fill="#231f20" text-anchor="end">0</text>
<text x="56" y="924.3" font-size="18.6" fill="#231f20" text-anchor="end">-1</text>
<text transform="translate(34 742.5) rotate(-90)" font-size="19.4" fill="#231f20" text-anchor="middle">iCER</text>
<text x="73" y="973.5" font-size="19" fill="#231f20">Cool</text>
<text x="450.3" y="973.5" font-size="19" fill="#231f20">Warm</text>
</g>
<g id="pc">
<text x="630" y="393.5" font-size="19.35" fill="#231f20">Functional reorganization in a DOM assemblage</text>
<rect x="610" y="408.75" width="455.5" height="561" fill="none" stroke="#a6a6a6" stroke-width="1.1" stroke-dasharray="3.4 3.2"/>
<text x="628" y="435.5" font-size="19.4" fill="#231f20">(c)</text>
<ellipse cx="842" cy="903" rx="172" ry="26" fill="url(#floorG)"/>
<path d="M666.2 906.0 C666.3 910.0 662.8 923.7 666.8 930.0 C670.8 936.3 682.7 940.8 690.0 943.6 C697.3 946.5 702.3 946.0 710.6 947.1 C718.9 948.2 730.8 949.4 740.0 950.2 C749.2 951.0 755.6 951.5 766.1 952.1 C776.6 952.7 788.3 953.4 803.1 953.9 C817.9 954.4 838.9 955.2 855.0 955.1 C871.1 955.0 884.8 954.3 900.0 953.2 C915.2 952.1 932.2 950.8 946.0 948.7 C959.8 946.6 971.6 944.3 983.0 940.7 C994.4 937.1 1008.9 933.0 1014.6 927.0 C1020.3 921.0 1016.8 908.7 1017.2 905.0 " fill="none" stroke="url(#rimG)" stroke-width="4.2" stroke-linecap="round"/>
<path d="M666.2 790 V908 M1017.2 790 V907" fill="none" stroke="url(#wallG)" stroke-width="2.8"/>
<path d="M670.7 911.5 C673.9 912.2 683.4 914.6 690.0 916.0 C696.6 917.4 702.3 918.7 710.6 919.8 C718.9 920.9 730.8 922.0 740.0 922.8 C749.2 923.6 755.5 924.3 766.0 924.4 C776.5 924.5 791.5 923.9 803.0 923.6 C814.5 923.3 820.4 923.5 835.0 922.8 C849.6 922.0 872.1 921.0 890.6 919.1 C909.1 917.2 930.7 914.2 946.1 911.7 C961.5 909.2 972.0 906.6 983.1 904.3 C994.2 902.0 1007.8 898.9 1012.8 897.8 L1012.8 924.0 C1007.8 926.2 994.1 933.9 983.0 937.5 C971.9 941.1 959.8 943.4 946.0 945.5 C932.2 947.6 915.2 948.9 900.0 950.0 C884.8 951.1 871.1 951.8 855.0 951.9 C838.9 952.0 817.9 951.2 803.1 950.7 C788.3 950.2 776.6 949.5 766.1 948.9 C755.6 948.3 749.2 947.8 740.0 947.0 C730.8 946.2 718.9 945.0 710.6 943.9 C702.3 942.8 696.6 941.8 690.0 940.4 C683.4 939.0 673.9 936.4 670.7 935.6 Z" fill="url(#bandBlue)"/>
<path d="M752.0 924.0 C754.3 924.1 757.5 924.5 766.0 924.4 C774.5 924.3 791.5 923.9 803.0 923.6 C814.5 923.3 820.4 923.5 835.0 922.8 C849.6 922.0 872.1 921.0 890.6 919.1 C909.1 917.2 930.7 914.2 946.1 911.7 C961.5 909.2 972.0 906.6 983.1 904.3 C994.2 902.0 1007.8 898.9 1012.8 897.8 L1012.8 918.6 C1007.8 919.8 994.2 923.4 983.1 925.6 C972.0 927.8 961.5 930.3 946.1 932.0 C930.7 933.7 905.8 935.4 890.6 935.7 C875.4 936.0 869.6 934.7 855.0 933.7 C840.4 932.8 817.8 931.4 803.0 930.0 C788.2 928.6 774.5 926.6 766.0 925.6 C757.5 924.6 754.3 924.3 752.0 924.0 Z" fill="url(#bandRed)"/>
<ellipse cx="842" cy="444.5" rx="152" ry="20.8" fill="url(#ringRim)"/>
<ellipse cx="842" cy="444.6" rx="141.5" ry="19.2" fill="url(#ringBack)"/>
<clipPath id="ringClip"><ellipse cx="842" cy="444.6" rx="141.5" ry="19.2"/></clipPath>
<ellipse cx="842" cy="453.9" rx="141.5" ry="19.2" fill="#ffffff" clip-path="url(#ringClip)"/>
<circle cx="831.9" cy="427.4" r="8.6" fill="url(#sbfc1d1)"/>
<circle cx="864.9" cy="461.2" r="8.6" fill="url(#sbfc1d1)"/>
<path d="M697.5 468 C712 520 760 562 806 575 C818 578.5 824 584 824.3 594" fill="none" stroke="url(#bowlL)" stroke-width="5.6" stroke-linecap="round"/>
<path d="M986.5 468 C972 520 925 562 879 575 C866 578.5 858.8 584 858.5 594" fill="none" stroke="url(#bowlR)" stroke-width="5.6" stroke-linecap="round"/>
<path d="M690 444.5 A152 20.8 0 0 0 994 444.5 L994 464 A152 20.8 0 0 1 690 464 Z" fill="url(#ringFront)"/>
<text transform="translate(886.3 481) rotate(-5.6)" font-size="15.5" fill="#231f20">DOM pool</text>
<path d="M822.6 592.0 L822.6 594.8 L822.3 597.3 L821.8 599.5 L821.1 601.5 L820.2 603.2 L819.1 604.8 L817.7 606.3 L816.1 607.6 L814.1 608.8 L811.9 610.0 L809.3 611.1 L806.4 612.0 L803.1 613.0 L799.5 613.8 L793.4 615.3 L787.3 617.1 L781.2 619.2 L775.1 621.7 L769.1 624.4 L763.2 627.5 L757.3 630.8 L751.6 634.4 L745.9 638.2 L740.3 642.3 L734.9 646.6 L729.7 651.1 L724.6 655.9 L719.7 660.8 L714.6 666.6 L709.7 672.6 L705.1 678.7 L700.7 685.0 L696.6 691.4 L692.7 697.9 L689.0 704.5 L685.6 711.1 L682.4 717.8 L679.6 724.6 L677.0 731.3 L674.7 738.1 L672.6 744.7 L670.7 751.3 L669.7 755.3 L668.9 759.4 L668.2 763.4 L667.6 767.6 L667.0 771.7 L666.6 775.9 L666.2 780.1 L665.9 784.3 L665.7 788.6 L665.5 792.8 L665.4 797.1 L665.4 801.4 L665.3 805.7 L665.3 810.0 L665.3 820.0 L665.3 830.0 L665.3 840.0 L665.3 850.0 L665.3 860.0 L665.3 870.0 L665.3 880.0 L665.3 890.0 L665.3 900.0 L665.3 910.0 L665.3 912.0 L668.7 912.0 L668.7 910.0 L668.7 900.0 L668.7 890.0 L668.7 880.0 L668.7 870.0 L668.7 860.0 L668.7 850.0 L668.7 840.0 L668.7 830.0 L668.7 820.0 L668.7 810.0 L668.7 805.7 L668.8 801.5 L668.9 797.2 L669.1 793.0 L669.3 788.8 L669.7 784.6 L670.0 780.4 L670.5 776.3 L671.0 772.2 L671.7 768.2 L672.4 764.2 L673.3 760.3 L674.3 756.4 L675.3 752.7 L677.5 746.3 L679.9 739.9 L682.5 733.5 L685.3 727.0 L688.3 720.5 L691.4 714.0 L694.7 707.5 L698.3 701.1 L702.0 694.8 L706.0 688.5 L710.3 682.5 L714.7 676.5 L719.4 670.7 L724.3 665.2 L729.0 660.4 L733.9 655.8 L738.9 651.4 L744.0 647.0 L749.3 642.9 L754.7 639.1 L760.2 635.4 L765.7 632.1 L771.4 629.0 L777.1 626.2 L782.9 623.7 L788.8 621.5 L794.6 619.7 L800.5 618.2 L804.3 617.3 L807.7 616.3 L810.9 615.1 L813.7 613.9 L816.3 612.5 L818.6 611.0 L820.6 609.2 L822.3 607.3 L823.7 605.2 L824.7 602.9 L825.5 600.4 L825.9 597.8 L826.1 594.9 L826.0 592.0Z" fill="url(#jarL)"/>
<path d="M858.0 592.0 L857.9 594.9 L858.1 597.8 L858.5 600.4 L859.3 602.9 L860.3 605.2 L861.7 607.3 L863.4 609.2 L865.4 611.0 L867.7 612.5 L870.3 613.9 L873.1 615.1 L876.3 616.3 L879.7 617.3 L883.5 618.2 L889.4 619.7 L895.2 621.5 L901.0 623.7 L906.7 626.2 L912.3 629.0 L917.9 632.0 L923.3 635.4 L928.6 639.0 L933.8 642.9 L938.8 647.0 L943.6 651.3 L948.3 655.7 L952.8 660.3 L957.1 665.1 L962.0 670.7 L966.7 676.5 L971.2 682.5 L975.5 688.6 L979.6 694.8 L983.4 701.1 L987.1 707.6 L990.5 714.0 L993.8 720.6 L996.9 727.0 L999.8 733.5 L1002.5 740.0 L1005.0 746.4 L1007.2 752.7 L1008.2 756.4 L1009.2 760.3 L1010.1 764.2 L1010.8 768.2 L1011.5 772.2 L1012.0 776.3 L1012.5 780.4 L1012.8 784.6 L1013.2 788.8 L1013.4 793.0 L1013.6 797.2 L1013.7 801.5 L1013.8 805.7 L1013.8 810.0 L1013.8 820.0 L1013.8 830.0 L1013.8 840.0 L1013.8 850.0 L1013.8 860.0 L1013.8 870.0 L1013.8 880.0 L1013.8 890.0 L1013.8 900.0 L1015.5 910.0 L1017.2 900.0 L1013.8 900.0 L1015.5 910.0 L1017.2 900.0 L1017.2 890.0 L1017.2 880.0 L1017.2 870.0 L1017.2 860.0 L1017.2 850.0 L1017.2 840.0 L1017.2 830.0 L1017.2 820.0 L1017.2 810.0 L1017.2 805.7 L1017.1 801.4 L1017.1 797.1 L1017.0 792.8 L1016.8 788.6 L1016.6 784.3 L1016.3 780.1 L1015.9 775.9 L1015.5 771.7 L1014.9 767.6 L1014.3 763.4 L1013.6 759.4 L1012.8 755.3 L1011.8 751.3 L1009.9 744.7 L1007.7 738.0 L1005.2 731.3 L1002.6 724.5 L999.6 717.8 L996.3 711.1 L992.8 704.4 L989.0 697.9 L985.0 691.4 L980.8 685.0 L976.4 678.7 L971.7 672.6 L966.9 666.6 L961.8 660.9 L957.4 656.0 L952.7 651.2 L947.8 646.6 L942.6 642.4 L937.3 638.3 L931.8 634.4 L926.2 630.8 L920.5 627.5 L914.6 624.4 L908.7 621.7 L902.7 619.2 L896.7 617.1 L890.6 615.3 L884.5 613.8 L880.9 613.0 L877.6 612.0 L874.7 611.1 L872.1 610.0 L869.8 608.8 L867.9 607.6 L866.3 606.3 L864.9 604.8 L863.8 603.2 L862.9 601.5 L862.2 599.5 L861.7 597.3 L861.4 594.8 L861.4 592.0Z" fill="url(#jarR)"/>
<circle cx="869.3" cy="518" r="8.7" fill="url(#sbfc1d1)"/>
<circle cx="812.2" cy="534.6" r="8.7" fill="url(#sbfc1d1)"/>
<circle cx="827.6" cy="533.7" r="8.7" fill="url(#sbfc1d1)"/>
<circle cx="845.2" cy="530.9" r="8.7" fill="url(#sbfc1d1)"/>
<circle cx="858.5" cy="535" r="8.7" fill="url(#sbfc1d1)"/>
<circle cx="778.5" cy="549.4" r="8.7" fill="url(#sbfc1d1)"/>
<circle cx="810.4" cy="547" r="8.7" fill="url(#sbfc1d1)"/>
<circle cx="838.7" cy="544.4" r="8.7" fill="url(#sbfc1d1)"/>
<circle cx="869.6" cy="543.9" r="8.7" fill="url(#sbfc1d1)"/>
<circle cx="884.8" cy="544.4" r="8.7" fill="url(#sbfc1d1)"/>
<circle cx="904.8" cy="549.4" r="8.7" fill="url(#sbfc1d1)"/>
<circle cx="792.4" cy="556.5" r="8.7" fill="url(#sbfc1d1)"/>
<circle cx="819.6" cy="551.3" r="8.7" fill="url(#sbfc1d1)"/>
<circle cx="850.7" cy="551.9" r="8.7" fill="url(#sbfc1d1)"/>
<circle cx="865.9" cy="553.1" r="8.7" fill="url(#sbfc1d1)"/>
<circle cx="892.4" cy="555.9" r="8.7" fill="url(#sbfc1d1)"/>
<circle cx="806.3" cy="562.8" r="8.7" fill="url(#sbfc1d1)"/>
<circle cx="830.2" cy="558.1" r="8.7" fill="url(#sbfc1d1)"/>
<circle cx="878.5" cy="561.5" r="8.7" fill="url(#sbfc1d1)"/>
<circle cx="820.6" cy="567" r="8.7" fill="url(#sbfc1d1)"/>
<circle cx="845.6" cy="568" r="8.7" fill="url(#sbfc1d1)"/>
<circle cx="863.1" cy="567" r="8.7" fill="url(#sbfc1d1)"/>
<circle cx="829.8" cy="574.4" r="8.7" fill="url(#sbfc1d1)"/>
<circle cx="851.5" cy="580" r="8.7" fill="url(#sbfc1d1)"/>
<circle cx="835.9" cy="586.5" r="8.7" fill="url(#sbfc1d1)"/>
<circle cx="846.5" cy="599.4" r="8.7" fill="url(#sbfc1d1)"/>
</g><g id="pc2">
<path d="M707.5 640 A134.4 16.25 0 0 1 976.3 640" fill="none" stroke="url(#coilB)" stroke-width="1.45"/>
<path d="M707.5 640 A134.4 16.25 0 0 0 976.3 640" fill="none" stroke="url(#coilG)" stroke-width="2.1"/>
<path d="M685.0 663 A156.9 20 0 0 1 998.8 663" fill="none" stroke="url(#coilB)" stroke-width="1.45"/>
<path d="M685.0 663 A156.9 20 0 0 0 998.8 663" fill="none" stroke="url(#coilG)" stroke-width="2.1"/>
<path d="M670.0 688 A171.5 21 0 0 1 1013.0 688" fill="none" stroke="url(#coilB)" stroke-width="1.45"/>
<path d="M670.0 688 A171.5 21 0 0 0 1013.0 688" fill="none" stroke="url(#coilG)" stroke-width="2.1"/>
<path d="M659.5 712 A182.4 22 0 0 1 1024.3 712" fill="none" stroke="url(#coilB)" stroke-width="1.45"/>
<path d="M659.5 712 A182.4 22 0 0 0 1024.3 712" fill="none" stroke="url(#coilG)" stroke-width="2.1"/>
<g stroke="#5e9ddb" stroke-width="3" stroke-linecap="round" fill="none">
<line x1="641.00" y1="669.00" x2="641.00" y2="684.60"/>
<line x1="641.00" y1="676.02" x2="645.26" y2="679.00" stroke-width="2.5"/>
<line x1="641.00" y1="676.02" x2="636.74" y2="679.00" stroke-width="2.5"/>
<line x1="641.00" y1="680.23" x2="644.11" y2="682.41" stroke-width="2.5"/>
<line x1="641.00" y1="680.23" x2="637.89" y2="682.41" stroke-width="2.5"/>
<line x1="641.00" y1="669.00" x2="627.49" y2="676.80"/>
<line x1="634.92" y1="672.51" x2="634.47" y2="677.69" stroke-width="2.5"/>
<line x1="634.92" y1="672.51" x2="630.21" y2="670.31" stroke-width="2.5"/>
<line x1="631.27" y1="674.62" x2="630.94" y2="678.40" stroke-width="2.5"/>
<line x1="631.27" y1="674.62" x2="627.83" y2="673.01" stroke-width="2.5"/>
<line x1="641.00" y1="669.00" x2="627.49" y2="661.20"/>
<line x1="634.92" y1="665.49" x2="630.21" y2="667.69" stroke-width="2.5"/>
<line x1="634.92" y1="665.49" x2="634.47" y2="660.31" stroke-width="2.5"/>
<line x1="631.27" y1="663.38" x2="627.83" y2="664.99" stroke-width="2.5"/>
<line x1="631.27" y1="663.38" x2="630.94" y2="659.60" stroke-width="2.5"/>
<line x1="641.00" y1="669.00" x2="641.00" y2="653.40"/>
<line x1="641.00" y1="661.98" x2="636.74" y2="659.00" stroke-width="2.5"/>
<line x1="641.00" y1="661.98" x2="645.26" y2="659.00" stroke-width="2.5"/>
<line x1="641.00" y1="657.77" x2="637.89" y2="655.59" stroke-width="2.5"/>
<line x1="641.00" y1="657.77" x2="644.11" y2="655.59" stroke-width="2.5"/>
<line x1="641.00" y1="669.00" x2="654.51" y2="661.20"/>
<line x1="647.08" y1="665.49" x2="647.53" y2="660.31" stroke-width="2.5"/>
<line x1="647.08" y1="665.49" x2="651.79" y2="667.69" stroke-width="2.5"/>
<line x1="650.73" y1="663.38" x2="651.06" y2="659.60" stroke-width="2.5"/>
<line x1="650.73" y1="663.38" x2="654.17" y2="664.99" stroke-width="2.5"/>
<line x1="641.00" y1="669.00" x2="654.51" y2="676.80"/>
<line x1="647.08" y1="672.51" x2="651.79" y2="670.31" stroke-width="2.5"/>
<line x1="647.08" y1="672.51" x2="647.53" y2="677.69" stroke-width="2.5"/>
<line x1="650.73" y1="674.62" x2="654.17" y2="673.01" stroke-width="2.5"/>
<line x1="650.73" y1="674.62" x2="651.06" y2="678.40" stroke-width="2.5"/>
</g>
<circle cx="641" cy="669" r="3.2" fill="#5e9ddb"/>
<path d="M1051.30 671.50 L1061.80 669.60 L1051.30 667.70 Z" fill="#e8aa5c"/>
<path d="M1047.50 676.88 L1055.27 681.97 L1050.18 674.20 Z" fill="#e8aa5c"/>
<path d="M1041.00 678.00 L1042.90 688.50 L1044.80 678.00 Z" fill="#e8aa5c"/>
<path d="M1035.62 674.20 L1030.53 681.97 L1038.30 676.88 Z" fill="#e8aa5c"/>
<path d="M1034.50 667.70 L1024.00 669.60 L1034.50 671.50 Z" fill="#e8aa5c"/>
<path d="M1038.30 662.32 L1030.53 657.23 L1035.62 665.00 Z" fill="#e8aa5c"/>
<path d="M1044.80 661.20 L1042.90 650.70 L1041.00 661.20 Z" fill="#e8aa5c"/>
<path d="M1050.18 665.00 L1055.27 657.23 L1047.50 662.32 Z" fill="#e8aa5c"/>
<circle cx="1042.9" cy="669.6" r="7.6" fill="#f4bd3c" stroke="#e9a642" stroke-width="0.8"/>
<path d="M647.0999999999999 617.0 a6.6 6.6 0 0 1 13.2 0 V684.5 a10.6 10.6 0 1 1 -13.2 0 Z" fill="#b4bbc2" opacity="0.85"/>
<path d="M648.8 616.1 a6.6 6.6 0 0 1 13.2 0 V683.6 a10.6 10.6 0 1 1 -13.2 0 Z" fill="#ffffff" />
<path d="M652.35 617.55 a3.05 3.05 0 0 1 6.1 0 V692.2 h-6.1 Z" fill="#7fa9d6"/>
<rect x="652.35" y="676.8" width="6.1" height="15.400000000000091" fill="#3c7fc8"/>
<circle cx="655.4" cy="692.2" r="6.4" fill="#3c7fc8"/>
<path d="M1023.2999999999998 617.0 a6.6 6.6 0 0 1 13.2 0 V683.8 a10.6 10.6 0 1 1 -13.2 0 Z" fill="#b4bbc2" opacity="0.85"/>
<path d="M1021.4999999999999 616.1 a6.6 6.6 0 0 1 13.2 0 V682.9 a10.6 10.6 0 1 1 -13.2 0 Z" fill="#ffffff" />
<path d="M1025.05 617.55 a3.05 3.05 0 0 1 6.1 0 V691.5 h-6.1 Z" fill="#e38a93"/>
<rect x="1025.05" y="637.3" width="6.1" height="54.200000000000045" fill="#d9282c"/>
<circle cx="1028.1" cy="691.5" r="6.4" fill="#d9282c"/>
<text x="663.6" y="631.4" font-size="16.4" fill="#231f20">Cool</text>
<text x="976.7" y="631.4" font-size="16.6" fill="#231f20">Warm</text>
<circle cx="855.7" cy="632.2" r="8.7" fill="url(#sbcaeb8)"/>
<circle cx="750.75" cy="691.25" r="8.7" fill="url(#sa3bde6)"/>
<circle cx="913" cy="664.25" r="8.7" fill="url(#sf2c0b6)"/>
<circle cx="943.25" cy="708" r="8.7" fill="url(#se8553a)"/>
<circle cx="708" cy="734.25" r="8.7" fill="url(#s4c499d)"/>
<circle cx="970" cy="763.8" r="8.7" fill="url(#sa02c2c)"/>
<circle cx="877.5" cy="874.75" r="8.7" fill="url(#sf6d2c8)" opacity="0.85"/>
<path d="M741 827.6 L944.5 856.6 L943.8 862.3 L740.2 833.6 Z" fill="#f4d894"/>
<path d="M830 846 C829.4 838 835 833.8 842.3 833.8 C849.6 833.8 855.2 838 855.2 844 C855.3 845.0 855.5 848.0 856.0 850.0 C856.5 852.0 856.9 853.8 858.2 856.0 C859.5 858.2 861.8 861.0 864.0 863.0 C866.2 865.0 869.4 866.3 871.5 868.0 C873.6 869.7 875.3 871.0 876.5 873.0 C877.7 875.0 878.1 876.0 878.5 880.0 C878.9 884.0 878.7 894.2 878.7 897.0 L805.9 897.0 C805.9 894.2 805.7 884.0 806.1 880.0 C806.5 876.0 806.9 875.0 808.1 873.0 C809.3 871.0 811.0 869.7 813.1 868.0 C815.2 866.3 818.4 865.0 820.6 863.0 C822.8 861.0 825.1 858.2 826.4 856.0 C827.7 853.8 828.1 852.0 828.6 850.0 C829.1 848.0 829.3 845.0 829.4 844.0 Z" fill="url(#pedG)"/>
<circle cx="842" cy="845.5" r="5.2" fill="#dea12a" stroke="#d29a2a" stroke-width="0.8"/>
<path d="M685 779 A54.6 41 0 0 0 794.2 779 Z" fill="#f9e3ab"/>
<path d="M737.5 819 L737.7 829 a4.6 4.6 0 1 0 3.4 0 L741 819 Z" fill="#f2c985"/>
<circle cx="697.5" cy="766.7" r="8.7" fill="url(#s4f4da0)"/>
<circle cx="718.3" cy="766.7" r="8.7" fill="url(#s5861b3)"/>
<circle cx="739.2" cy="766.7" r="8.7" fill="url(#s7a9ad6)"/>
<circle cx="760" cy="766.7" r="8.7" fill="url(#sa0b9e3)"/>
<circle cx="780.8" cy="766.7" r="8.7" fill="url(#sccd9f0)"/>
<rect x="680" y="774.2" width="120" height="5.4" fill="#f2c985"/>
<g transform="translate(739.4 800.8)"><circle r="19.3" fill="#f1dcae" opacity="0.8"/><circle r="18.4" fill="url(#yyW)"/><path d="M-5.4 -4.2 C-5.6 -9.6 -2 -12.4 3 -12.8 C9 -13.2 14.4 -10.6 17 -6" fill="none" stroke="#e9cf9c" stroke-width="2" opacity="0.85"/><path d="M-3.4 -4.6 C-3.4 -8 -1 -9.8 1.5 -10.4 C6 -11.5 11 -10.3 14 -7.6 C17.5 -4.4 19.2 0.5 18.6 4.5 C18 8.8 15.8 12.6 12.6 15 C13.6 11.5 14 8 13.4 5 C12.8 2 11.5 -0.4 9.5 -1.2 C7.5 -2 5.5 -1.4 3.5 -0.6 C1 0.3 -1.5 -0.4 -2.7 -1.8 C-3.3 -2.6 -3.4 -3.6 -3.4 -4.6 Z" fill="#3d3937"/><path d="M-4.6 -1 C-6 1.6 -4.6 4.6 -1.6 5 " fill="none" stroke="#ecd9ae" stroke-width="1.8" opacity="0.8"/><text transform="translate(2.6 13.4) rotate(-27)" font-size="10.4" font-weight="bold" fill="#2a2626">D</text></g>
<path d="M889.2 808 A54.6 41 0 0 0 998.3 808 Z" fill="#f9e3ab"/>
<path d="M942.6 848 L942.8 857.5 a4.4 4.4 0 1 0 3.2 0 L946 848 Z" fill="#f1d591"/>
<circle cx="902.8" cy="795.8" r="8.7" fill="url(#sf6cdc6)"/>
<circle cx="923.7" cy="795.8" r="8.7" fill="url(#sf2a492)"/>
<circle cx="944.7" cy="795.8" r="8.7" fill="url(#se96a50)"/>
<circle cx="965.7" cy="795.8" r="8.7" fill="url(#sc84040)"/>
<circle cx="986.3" cy="795.8" r="8.7" fill="url(#sa52e2e)"/>
<circle cx="912.8" cy="782.5" r="8.7" fill="url(#sf5c4bc)"/>
<circle cx="934.2" cy="782.5" r="8.7" fill="url(#sf09886)"/>
<circle cx="955" cy="782.5" r="8.7" fill="url(#se95c42)"/>
<rect x="884.2" y="803" width="120" height="5.4" fill="#f1d591"/>
<g transform="translate(944.05 829.7)"><circle r="18.5" fill="#4a4548"/><path d="M7.3 18.1 C11 16.8 13.6 15 15.4 12.8 C17.6 10 18.6 6.6 18.5 3.6 C18.5 0.6 18.4 -2 17.9 -5.4 C17 -7.4 15.8 -8.6 14.4 -9.5 C12.6 -11.2 10.4 -12.4 7.8 -13.1 C5.4 -13.7 2.8 -13.9 0.3 -13.6 C-1.6 -13.2 -3.4 -12.6 -4.8 -11.5 C-6.6 -10.2 -7.8 -8.6 -8.4 -6.5 C-9 -4.8 -9.2 -3 -8.9 -1.4 C-8.6 0.6 -7.8 2.4 -6.3 3.6 C-5 4.8 -3.4 5.5 -1.8 5.7 C0 5.8 1.6 5 3.3 4.4 C4.6 3.8 6 3.3 7.3 3.6 C8.6 3.9 9.8 4.6 10.4 5.7 C11.4 7.2 11.8 8.8 11.6 10.7 C11.4 12.4 10.8 14 9.9 15.3 C9.2 16.4 8.4 17.3 7.3 18.1 Z" fill="url(#yyC)"/><path d="M2 -1 C7 -2.4 12.6 1 13.8 6 C14.6 9.4 13.6 12.6 11.6 15" fill="none" stroke="#e2cda6" stroke-width="2" opacity="0.75"/><path d="M-1.2 -5.2 l2.2 -2.3 l2.4 1.4 l0.2 3.6 l-2.6 1.6 Z" fill="#ffffff" stroke="#7c8088" stroke-width="0.7" stroke-linejoin="round"/></g>
<circle cx="983" cy="835.8" r="8.7" fill="url(#sa52e2e)"/>
<circle cx="714.2" cy="834.7" r="8.7" fill="url(#s4c499d)"/>
<ellipse cx="745.7" cy="869.9" rx="8" ry="2.4" fill="#9a9a9a" opacity="0.22"/>
<ellipse cx="686" cy="892.1" rx="8" ry="2.4" fill="#9a9a9a" opacity="0.22"/>
<ellipse cx="701" cy="899.1" rx="8" ry="2.4" fill="#9a9a9a" opacity="0.22"/>
<ellipse cx="689.75" cy="902.1" rx="8" ry="2.4" fill="#9a9a9a" opacity="0.22"/>
<ellipse cx="724.25" cy="889.6" rx="8" ry="2.4" fill="#9a9a9a" opacity="0.22"/>
<ellipse cx="718.5" cy="900.85" rx="8" ry="2.4" fill="#9a9a9a" opacity="0.22"/>
<ellipse cx="745.5" cy="907.6" rx="8" ry="2.4" fill="#9a9a9a" opacity="0.22"/>
<ellipse cx="776" cy="888.35" rx="8" ry="2.4" fill="#9a9a9a" opacity="0.22"/>
<ellipse cx="785.25" cy="914.6" rx="8" ry="2.4" fill="#9a9a9a" opacity="0.22"/>
<ellipse cx="832.25" cy="899.6" rx="8" ry="2.4" fill="#9a9a9a" opacity="0.22"/>
<ellipse cx="854.75" cy="899.6" rx="8" ry="2.4" fill="#9a9a9a" opacity="0.22"/>
<ellipse cx="823.5" cy="915.6" rx="8" ry="2.4" fill="#9a9a9a" opacity="0.22"/>
<ellipse cx="838.5" cy="911.6" rx="8" ry="2.4" fill="#9a9a9a" opacity="0.22"/>
<ellipse cx="861" cy="912.1" rx="8" ry="2.4" fill="#9a9a9a" opacity="0.22"/>
<ellipse cx="898.5" cy="887.6" rx="8" ry="2.4" fill="#9a9a9a" opacity="0.22"/>
<ellipse cx="909.75" cy="894.6" rx="8" ry="2.4" fill="#9a9a9a" opacity="0.22"/>
<ellipse cx="924.75" cy="892.1" rx="8" ry="2.4" fill="#9a9a9a" opacity="0.22"/>
<ellipse cx="933.5" cy="886.6" rx="8" ry="2.4" fill="#9a9a9a" opacity="0.22"/>
<ellipse cx="951.75" cy="891.35" rx="8" ry="2.4" fill="#9a9a9a" opacity="0.22"/>
<ellipse cx="968.5" cy="879.6" rx="8" ry="2.4" fill="#9a9a9a" opacity="0.22"/>
<ellipse cx="986" cy="889.1" rx="8" ry="2.4" fill="#9a9a9a" opacity="0.22"/>
<ellipse cx="998.5" cy="898.35" rx="8" ry="2.4" fill="#9a9a9a" opacity="0.22"/>
<ellipse cx="969.75" cy="894.6" rx="8" ry="2.4" fill="#9a9a9a" opacity="0.22"/>
<ellipse cx="932.25" cy="900.85" rx="8" ry="2.4" fill="#9a9a9a" opacity="0.22"/>
<ellipse cx="983.5" cy="905.85" rx="8" ry="2.4" fill="#9a9a9a" opacity="0.22"/>
<ellipse cx="961.5" cy="907.6" rx="8" ry="2.4" fill="#9a9a9a" opacity="0.22"/>
<ellipse cx="941" cy="909.6" rx="8" ry="2.4" fill="#9a9a9a" opacity="0.22"/>
<ellipse cx="918" cy="913.35" rx="8" ry="2.4" fill="#9a9a9a" opacity="0.22"/>
<ellipse cx="899.75" cy="909.6" rx="8" ry="2.4" fill="#9a9a9a" opacity="0.22"/>
<ellipse cx="886" cy="913.35" rx="8" ry="2.4" fill="#9a9a9a" opacity="0.22"/>
<circle cx="744.7" cy="861.3" r="8.7" fill="url(#sbdd0ee)"/>
<circle cx="685" cy="883.5" r="8.7" fill="url(#s6361ac)"/>
<circle cx="700" cy="890.5" r="8.7" fill="url(#s8a9ad5)"/>
<circle cx="688.75" cy="893.5" r="8.7" fill="url(#s6867b4)"/>
<circle cx="723.25" cy="881" r="8.7" fill="url(#sa1b2df)"/>
<circle cx="717.5" cy="892.25" r="8.7" fill="url(#s7d94d5)"/>
<circle cx="744.5" cy="899" r="8.7" fill="url(#s8ea6dd)"/>
<circle cx="775" cy="879.75" r="8.7" fill="url(#sc8d4ee)"/>
<circle cx="784.25" cy="906" r="8.7" fill="url(#s96aee3)"/>
<circle cx="831.25" cy="891" r="8.7" fill="url(#sd9d9e9)" opacity="0.8"/>
<circle cx="853.75" cy="891" r="8.7" fill="url(#sd9d9e9)" opacity="0.8"/>
<circle cx="822.5" cy="907" r="8.7" fill="url(#sf5ab9b)" opacity="0.9"/>
<circle cx="837.5" cy="903" r="8.7" fill="url(#scdd5ec)" opacity="0.88"/>
<circle cx="860" cy="903.5" r="8.7" fill="url(#sf4ab9b)" opacity="0.9"/>
<circle cx="897.5" cy="879" r="8.7" fill="url(#sf8cfc4)"/>
<circle cx="908.75" cy="886" r="8.7" fill="url(#sf3a898)"/>
<circle cx="923.75" cy="883.5" r="8.7" fill="url(#sf0988a)"/>
<circle cx="932.5" cy="878" r="8.7" fill="url(#sf09a88)"/>
<circle cx="950.75" cy="882.75" r="8.7" fill="url(#se05a48)"/>
<circle cx="967.5" cy="871" r="8.7" fill="url(#se85840)"/>
<circle cx="985" cy="880.5" r="8.7" fill="url(#sa03232)"/>
<circle cx="997.5" cy="889.75" r="8.7" fill="url(#s9c3030)"/>
<circle cx="968.75" cy="886" r="8.7" fill="url(#sc84444)"/>
<circle cx="931.25" cy="892.25" r="8.7" fill="url(#see7a60)"/>
<circle cx="982.5" cy="897.25" r="8.7" fill="url(#sb03838)"/>
<circle cx="960.5" cy="899" r="8.7" fill="url(#se8604a)"/>
<circle cx="940" cy="901" r="8.7" fill="url(#sf08a78)"/>
<circle cx="917" cy="904.75" r="8.7" fill="url(#sf4a090)"/>
<circle cx="898.75" cy="901" r="8.7" fill="url(#sf8c8bc)"/>
<circle cx="885" cy="904.75" r="8.7" fill="url(#sf8c0b0)"/>
<text transform="translate(642.6 764.6) rotate(90)" font-size="18.2" textLength="142" lengthAdjust="spacingAndGlyphs" fill="#231f20">Negative response</text>
<text transform="translate(1030.4 767.3) rotate(90)" font-size="18.2" textLength="135.7" lengthAdjust="spacingAndGlyphs" fill="#231f20">Positive response</text>
<path id="tpL" d="M673 927.6 C710 937 770 945.5 872 944.6" fill="none"/><path id="tpR" d="M898 932.6 Q955 929.5 1004 918.6" fill="none"/>
<text font-size="12.8" fill="#1d1d2b"><textPath href="#tpL">Thermodynamically more favorable</textPath></text>
<text font-size="12.6" fill="#3a1512"><textPath href="#tpR">High Gibbs energy</textPath></text>
<g><circle cx="892" cy="968.2" r="9.1" fill="#23803a"/><path d="M889.6 961 L887.4 975.4 M888 970 C889.2 966.6 893.2 965.8 893.4 968.6 L892.5 975.3 M894.8 963.2 L893 975.3 M891.6 967 L898 966.2" stroke="#ffffff" stroke-width="1.6" fill="none" stroke-linecap="round"/><text x="911.4" y="972.6" font-size="15.2" font-weight="bold" font-style="italic" textLength="157.6" lengthAdjust="spacingAndGlyphs" fill="#1d8a1d" stroke="#1d8a1d" stroke-width="1.1" stroke-linejoin="round">tan<tspan fill="#2a6ab5" stroke="#2a6ab5">pai</tspan>fang.com</text></g>
</g>
</svg>
</body></html>
